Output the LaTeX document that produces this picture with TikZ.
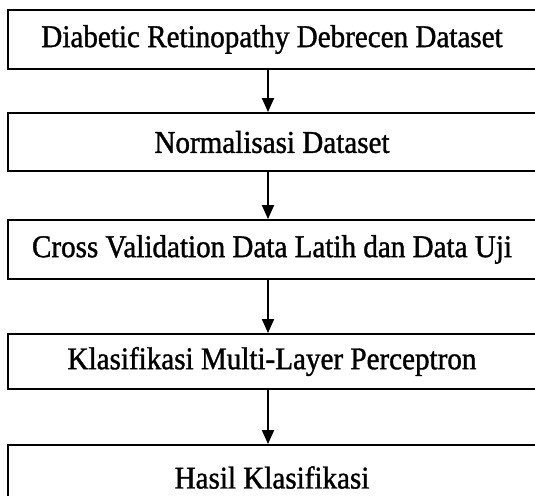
\documentclass[tikz,border=0pt]{standalone}
\usepackage{fontspec}
\setmainfont{Liberation Serif}[FakeStretch=0.92,FakeBold=1.2]
\usepackage{tikz}
\usetikzlibrary{arrows.meta}
\tikzset{
  step-box/.style={draw=black,line width=1.1pt,minimum width=10.56cm,
    align=center,inner sep=0pt,font=\fontsize{18}{21}\selectfont},
  arrow/.style={-{Triangle[length=2.8mm,width=2.4mm]},line width=1.1pt},
}
\begin{document}
\begin{tikzpicture}[x=0.02cm,y=-0.02cm]
  \useasboundingbox (0,0) rectangle (535,495);
  \node[step-box,minimum height=1.18cm] (dataset) at (272,39.5) {Diabetic Retinopathy Debrecen Dataset};
  \node[step-box,minimum height=1.16cm] (norm) at (272,142) {Normalisasi Dataset};
  \node[step-box,minimum height=1.18cm] (cv) at (272,249.5) {Cross Validation Data Latih dan Data Uji};
  \node[step-box,minimum height=1.10cm] (mlp) at (272,361.5) {Klasifikasi Multi-Layer Perceptron};
  \node[step-box,minimum height=1.30cm] (hasil) at (272,477.5) {Hasil Klasifikasi};
  \draw[arrow] (dataset.south -| 268,0) -- (norm.north -| 268,0);
  \draw[arrow] (norm.south -| 268,0) -- (cv.north -| 268,0);
  \draw[arrow] (cv.south -| 268,0) -- (mlp.north -| 268,0);
  \draw[arrow] (mlp.south -| 268,0) -- (hasil.north -| 268,0);
\end{tikzpicture}
\end{document}
